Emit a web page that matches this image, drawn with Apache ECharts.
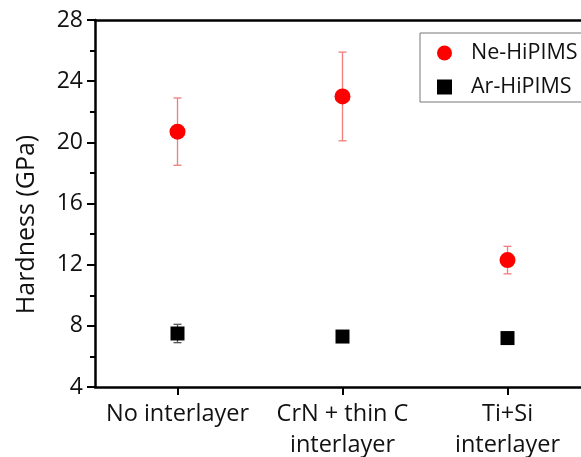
<!doctype html>
<html>
<head>
	<meta charset="UTF-8">
	<title>Hardness</title>
	<script src="https://cdn.jsdelivr.net/npm/echarts@6/dist/echarts.min.js"></script>
	<style>
		html, body { margin: 0; padding: 0; background: #fff; }
		#chart { width: 581px; height: 457px; }
	</style>
</head>
<body>
	<div id="chart"></div>
	<script>
		// data
		var categories = ['No interlayer', 'CrN + thin C\ninterlayer', 'Ti+Si\ninterlayer'];
		var neMean = [20.7, 23.0, 12.3];
		var neErr = [2.2, 2.9, 0.9];
		var arMean = [7.5, 7.3, 7.2];
		var arErr = [0.6, 0.3, 0.2];
		var yTicks = [4, 8, 12, 16, 20, 24, 28];

		var font = '"Open Sans", sans-serif';
		var catIdx = categories.map(function (c, i) { return i; });

		function points(mean) {
			return mean.map(function (m, i) { return [i, m]; });
		}

		function errData(mean, err) {
			return mean.map(function (m, i) { return [i, m - err[i], m + err[i]]; });
		}

		function errRender(color) {
			return function (params, api) {
				var lo = api.coord([api.value(0), api.value(1)]);
				var hi = api.coord([api.value(0), api.value(2)]);
				var w = 4;
				var style = { stroke: color, lineWidth: 1.3, fill: null };
				return {
					type: 'group',
					children: [
						{ type: 'line', shape: { x1: lo[0], y1: lo[1], x2: hi[0], y2: hi[1] }, style: style },
						{ type: 'line', shape: { x1: lo[0] - w, y1: lo[1], x2: lo[0] + w, y2: lo[1] }, style: style },
						{ type: 'line', shape: { x1: hi[0] - w, y1: hi[1], x2: hi[0] + w, y2: hi[1] }, style: style }
					]
				};
			};
		}

		var chart = echarts.init(document.getElementById('chart'));

		// plot box runs a bit past the right edge: 486px shown of 495px (3 bands)
		var xMin = -0.5;
		var xMax = -0.5 + 3 * 486 / 495;

		var option = {
			backgroundColor: '#fff',
			animation: false,
			grid: {
				left: 95,
				right: 0,
				top: 20,
				bottom: 70,
				outerBoundsMode: 'none'
			},
			legend: {
				left: 420,
				top: 33,
				orient: 'vertical',
				borderColor: '#777',
				borderWidth: 1,
				padding: [9, 20, 4, 17],
				itemGap: 12,
				itemWidth: 15,
				itemHeight: 15,
				textStyle: { fontFamily: font, fontSize: 21.5, color: '#111', lineHeight: 22, padding: [0, 0, 0, 14] },
				data: [
					{ name: 'Ne-HiPIMS', icon: 'circle' },
					{ name: 'Ar-HiPIMS', icon: 'rect' }
				]
			},
			xAxis: [
				{
					type: 'value',
					min: xMin,
					max: xMax,
					axisLine: { onZero: false, lineStyle: { color: '#000', width: 2.5 } },
					axisTick: { show: true, customValues: catIdx, length: 8, lineStyle: { color: '#000', width: 2 } },
					axisLabel: {
						customValues: catIdx,
						formatter: function (v) { return categories[Math.round(v)]; },
						fontFamily: font, fontSize: 23.5, color: '#111', margin: 12, lineHeight: 31
					},
					splitLine: { show: false }
				},
				{
					// top frame line
					type: 'value',
					position: 'top',
					min: xMin,
					max: xMax,
					axisLine: { show: true, onZero: false, lineStyle: { color: '#000', width: 2.5 } },
					axisTick: { show: false },
					axisLabel: { show: false },
					splitLine: { show: false }
				}
			],
			yAxis: {
				type: 'value',
				min: yTicks[0],
				max: yTicks[yTicks.length - 1],
				interval: 4,
				name: 'Hardness (GPa)',
				nameLocation: 'middle',
				nameGap: 56,
				nameTextStyle: { fontFamily: font, fontSize: 25, color: '#111', padding: [0, 42, 0, 0] },
				axisLine: { show: true, onZero: false, lineStyle: { color: '#000', width: 2.5 } },
				axisTick: { show: true, inside: false, length: 8, lineStyle: { color: '#000', width: 2 } },
				minorTick: { show: true, splitNumber: 2, length: 5, lineStyle: { color: '#000', width: 2 } },
				axisLabel: { fontFamily: font, fontSize: 23, color: '#111', margin: 12 },
				splitLine: { show: false }
			},
			series: [
				{
					name: 'Ne-HiPIMS err',
					type: 'custom',
					renderItem: errRender('#f07c7c'),
					data: errData(neMean, neErr),
					encode: { x: 0, y: [1, 2] },
					z: 1
				},
				{
					name: 'Ar-HiPIMS err',
					type: 'custom',
					renderItem: errRender('#555'),
					data: errData(arMean, arErr),
					encode: { x: 0, y: [1, 2] },
					z: 1
				},
				{
					name: 'Ne-HiPIMS',
					type: 'scatter',
					symbol: 'circle',
					symbolSize: 16,
					itemStyle: { color: '#ff0000', opacity: 1 },
					data: points(neMean),
					z: 3
				},
				{
					name: 'Ar-HiPIMS',
					type: 'scatter',
					symbol: 'rect',
					symbolSize: 14,
					itemStyle: { color: '#000', opacity: 1 },
					data: points(arMean),
					z: 3
				}
			]
		};

		chart.setOption(option);
	</script>
</body>
</html>
